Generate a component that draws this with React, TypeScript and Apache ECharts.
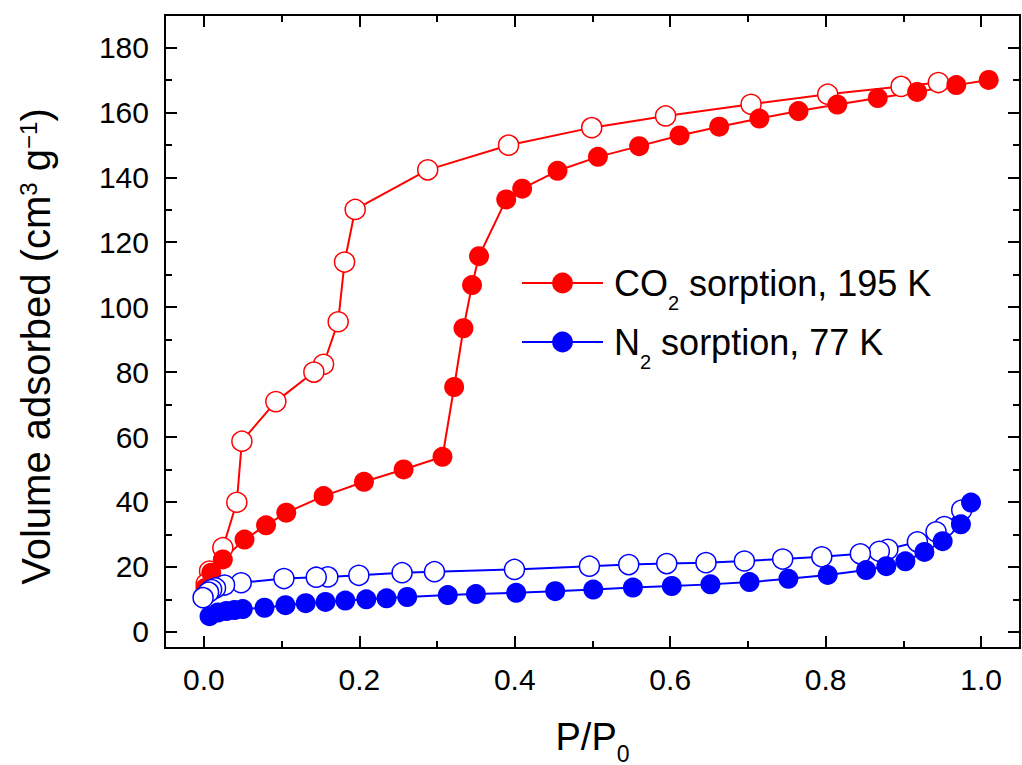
import React, { useEffect, useRef } from "react";
import * as echarts from "echarts";

// ---- data (P/P0, volume adsorbed cm3 g-1) ----
const co2Adsorption: [number, number][] = [
  [0.002, 13.5], [0.0095, 18.2], [0.0244, 22.3], [0.0523, 28.4], [0.08, 32.8],
  [0.106, 36.7], [0.154, 41.8], [0.206, 46.2], [0.257, 50.0], [0.307, 53.9],
  [0.322, 75.4], [0.334, 93.5], [0.345, 106.8], [0.354, 115.7], [0.389, 133.2],
  [0.4095, 136.5], [0.455, 142.0], [0.507, 146.3], [0.56, 149.6], [0.612, 152.9],
  [0.663, 155.6], [0.7147, 158.1], [0.765, 160.4], [0.815, 162.4], [0.867, 164.4],
  [0.9176, 166.3], [0.968, 168.4], [1.0097, 170.0],
];
const co2Desorption: [number, number][] = [
  [0.945, 169.2], [0.897, 168.0], [0.8026, 165.6], [0.704, 162.5], [0.594, 158.9],
  [0.499, 155.3], [0.392, 149.9], [0.288, 142.3], [0.1947, 130.1], [0.181, 113.9],
  [0.1728, 95.5], [0.154, 82.4], [0.1415, 80.0], [0.0926, 70.9], [0.0489, 58.7],
  [0.0424, 39.9], [0.0244, 25.9], [0.0073, 18.7], [0.003, 14.8],
];
const n2Adsorption: [number, number][] = [
  [0.0073, 4.8], [0.018, 5.9], [0.029, 6.4], [0.0395, 6.7], [0.05, 7.0],
  [0.078, 7.4], [0.105, 8.2], [0.131, 8.8], [0.1565, 9.2], [0.182, 9.6],
  [0.209, 10.0], [0.235, 10.3], [0.2616, 10.7], [0.3138, 11.3], [0.35, 11.6],
  [0.4018, 12.0], [0.452, 12.5], [0.501, 13.0], [0.552, 13.6], [0.602, 14.1],
  [0.6517, 14.6], [0.702, 15.3], [0.752, 16.3], [0.8026, 17.5], [0.852, 19.0],
  [0.878, 20.2], [0.9025, 21.7], [0.927, 24.6], [0.9505, 27.9], [0.974, 33.1],
  [0.987, 39.8],
];
const n2Desorption: [number, number][] = [
  [0.975, 37.5], [0.9527, 32.4], [0.942, 30.8], [0.918, 27.7], [0.88, 25.4],
  [0.869, 24.8], [0.8446, 24.0], [0.795, 23.1], [0.7447, 22.4], [0.6954, 21.8],
  [0.646, 21.3], [0.5955, 21.0], [0.5466, 20.7], [0.496, 20.2], [0.3996, 19.2],
  [0.2967, 18.5], [0.255, 18.2], [0.1994, 17.4], [0.1595, 16.9], [0.1446, 16.8],
  [0.103, 16.4], [0.048, 15.1], [0.0266, 14.4], [0.015, 13.5], [0.01, 13.0],
  [0.006, 12.2], [-0.001, 10.5],
];

const xMajorTicks = [0, 0.2, 0.4, 0.6, 0.8, 1.0];
const xMinorTicks = [0.1, 0.3, 0.5, 0.7, 0.9];
const yMajorTicks = [0, 20, 40, 60, 80, 100, 120, 140, 160, 180];
const yMinorTicks = [10, 30, 50, 70, 90, 110, 130, 150, 170];

const CO2_NAME = "CO2 sorption, 195 K";
const N2_NAME = "N2 sorption, 77 K";
const RED = "#ff0000";
const BLUE = "#0000ff";
const FONT = "Liberation Sans, Arial, sans-serif";

const X_MIN = -0.05, X_MAX = 1.05, Y_MIN = -5, Y_MAX = 190;

export default function App() {
  const ref = useRef<HTMLDivElement>(null);
  useEffect(() => {
    if (!ref.current) return;
    const chart = echarts.init(ref.current, null, { renderer: "svg" });

    const baseX = (position: string, ticks: number[], len: number, labels: boolean, extra: any = {}) => ({
      type: "value", position, min: X_MIN, max: X_MAX, gridIndex: 0,
      axisLine: { show: true, onZero: false, lineStyle: { color: "#000", width: 2 } },
      axisTick: { show: true, inside: true, length: len, customValues: ticks, lineStyle: { color: "#000", width: 2 } },
      axisLabel: labels
        ? { show: true, customValues: ticks, formatter: (v: number) => v.toFixed(1), fontSize: 30, color: "#000", fontFamily: FONT, margin: 16 }
        : { show: false },
      splitLine: { show: false },
      ...extra,
    });
    const baseY = (position: string, ticks: number[], len: number, labels: boolean, extra: any = {}) => ({
      type: "value", position, min: Y_MIN, max: Y_MAX, gridIndex: 0,
      axisLine: { show: true, onZero: false, lineStyle: { color: "#000", width: 2 } },
      axisTick: { show: true, inside: true, length: len, customValues: ticks, lineStyle: { color: "#000", width: 2 } },
      axisLabel: labels
        ? { show: true, customValues: ticks, fontSize: 30, color: "#000", fontFamily: FONT, margin: 16 }
        : { show: false },
      splitLine: { show: false },
      ...extra,
    });

    const legendRich = {
      n: { fontSize: 36, fontFamily: FONT, color: "#000", lineHeight: 60, verticalAlign: "middle" },
      s: { fontSize: 20, fontFamily: FONT, color: "#000", lineHeight: 20, verticalAlign: "bottom" },
    };
    const legendFormatter = (name: string) =>
      name === CO2_NAME ? "{n|CO}{s|2}{n| sorption, 195 K}" : "{n|N}{s|2}{n| sorption, 77 K}";
    const legendBase = {
      orient: "vertical", padding: 0, itemWidth: 81, itemHeight: 26, itemGap: 0,
      formatter: legendFormatter,
      textStyle: { rich: legendRich, padding: [0, 0, 0, 6] },
      selectedMode: false,
    };

    const line = (name: string, data: [number, number][], color: string, open: boolean) => ({
      name, type: "line", data, xAxisIndex: 0, yAxisIndex: 0,
      symbol: "circle", symbolSize: 20,
      lineStyle: { color, width: 2 },
      itemStyle: open ? { color: "#fff", borderColor: color, borderWidth: 1.5 } : { color, borderWidth: 0 },
      emphasis: { disabled: true },
      z: 2,
    });

    chart.setOption({
      animation: false,
      backgroundColor: "#fff",
      grid: { left: 165, top: 15, right: 2, bottom: 117, containLabel: false, outerBoundsMode: "none" },
      xAxis: [
        baseX("bottom", xMajorTicks, 12, true, {
          name: "{n|P/P}{s|0}", nameLocation: "middle", nameGap: 61,
          nameTextStyle: {
            rich: {
              n: { fontSize: 38, fontFamily: FONT, color: "#000", lineHeight: 56, verticalAlign: "middle" },
              s: { fontSize: 23, fontFamily: FONT, color: "#000", lineHeight: 20, verticalAlign: "bottom" },
            },
          },
        }),
        baseX("bottom", xMinorTicks, 7, false),
        baseX("top", xMajorTicks, 12, false),
        baseX("top", xMinorTicks, 7, false),
      ],
      yAxis: [
        baseY("left", yMajorTicks, 12, true, {
          name: "{n|Volume adsorbed (cm}{p|3}{n| g}{p|−1}{n|)}", nameLocation: "middle", nameGap: 109,
          nameTextStyle: {
            padding: [0, 30, 0, 0],
            rich: {
              n: { fontSize: 40, fontFamily: FONT, color: "#000", lineHeight: 40, verticalAlign: "middle" },
              p: { fontSize: 24, fontFamily: FONT, color: "#000", lineHeight: 4, verticalAlign: "top" },
            },
          },
        }),
        baseY("left", yMinorTicks, 7, false),
        baseY("right", yMajorTicks, 12, false),
        baseY("right", yMinorTicks, 7, false),
      ],
      legend: [
        { ...legendBase, data: [CO2_NAME], left: 521, top: 265 },
        { ...legendBase, data: [N2_NAME], left: 521, top: 324 },
      ],
      series: [
        line("CO2 desorption", co2Desorption, RED, true),
        line(CO2_NAME, co2Adsorption, RED, false),
        line("N2 desorption", n2Desorption, BLUE, true),
        line(N2_NAME, n2Adsorption, BLUE, false),
      ],
    });
    return () => chart.dispose();
  }, []);
  return <div ref={ref} style={{ position: "fixed", left: 0, top: 0, width: 1022, height: 765 }} />;
}
